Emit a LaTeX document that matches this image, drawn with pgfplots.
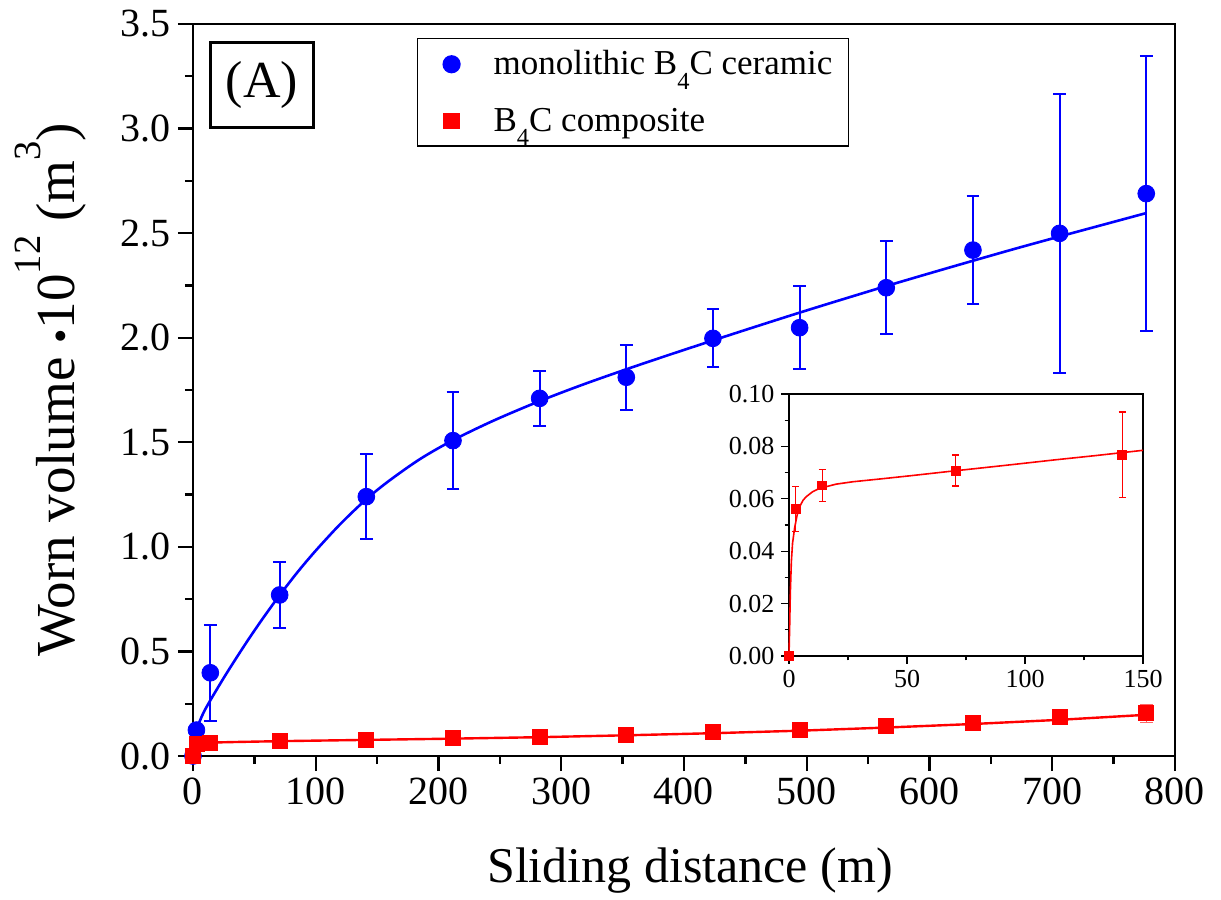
\documentclass[border=0pt]{standalone}
\usepackage{fontspec}
\setmainfont{Liberation Serif}
\usepackage{graphicx}
\usepackage{pgfplots}
\pgfplotsset{compat=1.18}
\newcommand{\subf}[1]{\raisebox{-0.42em}{\scalebox{0.7}{#1}}}
\newcommand{\supf}[1]{\raisebox{0.62em}{\scalebox{0.7}{#1}}}
\begin{document}
\begin{tikzpicture}
\begin{axis}[
  scale only axis, width=491pt, height=366pt,
  xmin=0, xmax=800, ymin=0, ymax=3.5,
  xtick={0,100,200,300,400,500,600,700,800}, minor x tick num=1,
  ytick={0,0.5,1,1.5,2,2.5,3,3.5}, minor y tick num=1,
  tick align=outside, tick pos=left,
  major tick length=7.5pt, minor tick length=4pt,
  every tick/.style={black, line width=1.2pt},
  axis line style={line width=1.35pt},
  tick label style={font=\fontsize{20}{24}\selectfont},
  /pgf/number format/assume math mode=true,
  yticklabel style={/pgf/number format/.cd, fixed, fixed zerofill, precision=1},
  scaled ticks=false,
  clip=false,
  xlabel={Sliding distance (m)},
  ylabel={Worn volume {\scalebox{0.75}{\textbullet}}10\supf{12} (m\supf{3})},
  every axis x label/.style={at={([xshift=3pt,yshift=-63pt]axis description cs:0.5,0)}, anchor=base, font=\fontsize{25}{30}\selectfont},
  every axis y label/.style={at={([xshift=-59pt]axis description cs:0,0.5)}, anchor=base, rotate=90, font=\fontsize{27.5}{32}\selectfont},
  legend style={at={(rel axis cs:0.228,0.981)}, anchor=north west, draw=black, line width=0.7pt,
    font=\fontsize{17.5}{20}\selectfont, inner xsep=6pt, inner ysep=4pt, row sep=11pt},
  legend cell align=left,
  legend image code/.code={\path[draw=none,fill=none] (0pt,0pt) -- (30pt,0pt); \draw[#1] plot coordinates {(11pt,0pt)};},
]
% fitted curves
\addplot[blue, line width=1.3pt, smooth, forget plot] coordinates {
(0,0) (2.8,0.12) (8,0.20) (14,0.265) (25,0.373) (35,0.466) (45,0.556) (55,0.642) (63,0.708)
(70.6,0.769) (85,0.878) (100,0.982) (120,1.109) (141.2,1.228) (160,1.317) (185,1.420)
(211.8,1.510) (245,1.604) (282.4,1.697) (317.7,1.776) (353,1.849) (388.3,1.919) (423.6,1.987)
(458.9,2.054) (494.2,2.120) (529.5,2.184) (564.8,2.247) (600.1,2.308) (635.4,2.368)
(670.7,2.427) (706,2.484) (741.3,2.540) (776.6,2.596)};
\addplot[red, line width=1.2pt, forget plot] coordinates {
(0,0) (0.5,0.012) (1,0.022) (2,0.036) (3,0.045) (5,0.054) (8,0.059) (12,0.062) (20,0.065)
(35,0.067) (70.6,0.071) (141.2,0.077) (211.8,0.083) (282.4,0.090) (353,0.099) (423.6,0.109)
(494.2,0.121) (564.8,0.136) (635.4,0.153) (706,0.173) (776.6,0.197)};
% data
\addplot[blue, only marks, mark=*, mark size=4.2pt,
  error bars/.cd, y dir=both, y explicit,
  error bar style={line width=1pt, blue},
  error mark options={rotate=90, mark size=3.2pt, line width=1pt, blue}]
  table[x=x, y=y, y error=e] {
x y e
0 0 0
2.8 0.124 0
14.1 0.398 0.229
70.6 0.770 0.160
141.2 1.240 0.202
211.8 1.508 0.233
282.4 1.710 0.133
353.0 1.811 0.155
423.6 1.997 0.138
494.2 2.048 0.198
564.8 2.239 0.222
635.4 2.419 0.258
706.0 2.499 0.666
776.6 2.689 0.659
};
\addlegendentry{monolithic B\subf{4}C ceramic}
\addplot[red, only marks, mark=square*, mark size=3.75pt,
  error bars/.cd, y dir=both, y explicit,
  error bar style={line width=0.6pt, red!60},
  error mark options={rotate=90, mark size=3.2pt, line width=0.6pt, red!60}]
  table[x=x, y=y, y error=e] {
x y e
0 0 0
2.8 0.056 0.009
14.1 0.065 0.006
70.6 0.071 0.006
141.2 0.077 0.016
211.8 0.085 0.01
282.4 0.090 0.01
353.0 0.103 0.01
423.6 0.116 0.01
494.2 0.124 0.01
564.8 0.145 0.01
635.4 0.159 0.01
706.0 0.186 0.012
776.6 0.204 0.042
};
\addlegendentry{B\subf{4}C composite}
\node[draw, line width=1.5pt, anchor=north west, minimum width=51.5pt, minimum height=42.5pt,
  inner sep=0pt, fill=white, font=\fontsize{26}{30}\selectfont] at (rel axis cs:0.0163,0.977) {(A)};
\end{axis}
\begin{axis}[
  at={(298pt,50pt)}, anchor=south west,
  scale only axis, width=177pt, height=131pt,
  xmin=0, xmax=150, ymin=0, ymax=0.1,
  xtick={0,50,100,150}, minor x tick num=1,
  ytick={0,0.02,0.04,0.06,0.08,0.1}, minor y tick num=1,
  tick align=outside, tick pos=left,
  major tick length=3.8pt, minor tick length=2.2pt,
  every tick/.style={black, line width=0.6pt},
  axis line style={line width=0.7pt},
  tick label style={font=\fontsize{13}{15}\selectfont},
  /pgf/number format/assume math mode=true,
  yticklabel style={/pgf/number format/.cd, fixed, fixed zerofill, precision=2},
  scaled ticks=false,
  axis background/.style={fill=white},
  clip=false,
]
\addplot[red, line width=0.8pt] coordinates {
(0,0) (0.3,0.012) (0.56,0.024) (1.0,0.036) (1.5,0.043) (2.4,0.049) (3.5,0.054) (4.5,0.057)
(6,0.0595) (7.3,0.0608) (10,0.0627) (13,0.064) (20,0.0656) (27,0.0665) (40,0.0677)
(50.4,0.0687) (70.5,0.0707) (90,0.0726) (112,0.0748) (130,0.0765) (141,0.0776) (150,0.0785)};
\addplot[red, only marks, mark=square*, mark size=2.2pt,
  error bars/.cd, y dir=both, y explicit,
  error bar style={line width=0.6pt, red},
  error mark options={rotate=90, mark size=1.8pt, line width=0.6pt, red}]
  table[x=x, y=y, y error=e] {
x y e
0 0 0
2.8 0.0562 0.0086
14.1 0.0651 0.006
70.6 0.0708 0.0059
141.2 0.0768 0.0163
};
\end{axis}
\path (-96.5pt,-69.5pt) rectangle (514pt,378pt);
\end{tikzpicture}
\end{document}
